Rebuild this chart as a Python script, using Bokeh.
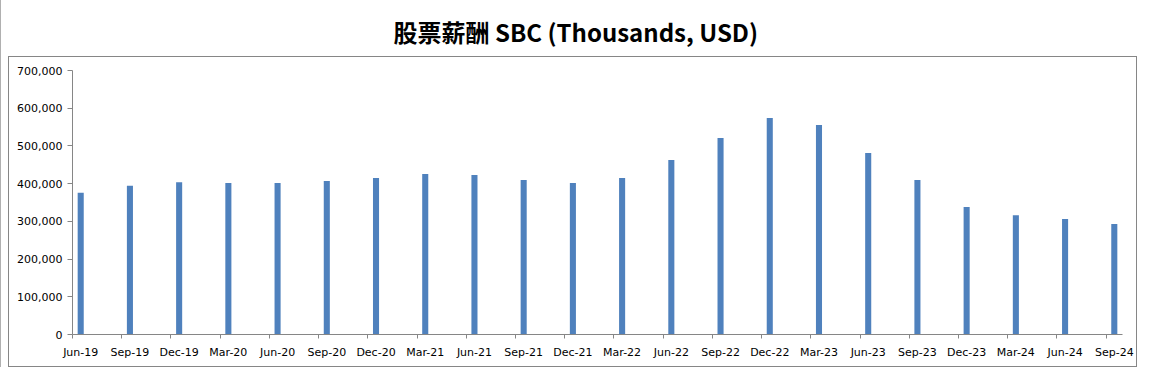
from bokeh.plotting import figure
from bokeh.models import FixedTicker, NumeralTickFormatter, ColumnDataSource, Range1d, Title
from bokeh.layouts import column
from bokeh.embed import file_html
from bokeh.resources import INLINE

# ---- data ----
quarters = ["Jun-19", "Sep-19", "Dec-19", "Mar-20", "Jun-20", "Sep-20", "Dec-20", "Mar-21",
            "Jun-21", "Sep-21", "Dec-21", "Mar-22", "Jun-22", "Sep-22", "Dec-22", "Mar-23",
            "Jun-23", "Sep-23", "Dec-23", "Mar-24", "Jun-24", "Sep-24"]
sbc = [376000, 394500, 404000, 401500, 401500, 407000, 415000, 425500,
       423000, 409500, 401500, 415000, 462500, 521000, 574000, 555500,
       481000, 409500, 338000, 316500, 306000, 293000]
y_ticks = [0, 100000, 200000, 300000, 400000, 500000, 600000, 700000]
title_text = "股票薪酬 SBC (Thousands, USD)"

# month index on a monthly date axis (quarterly points)
month_idx = [3 * i for i in range(len(quarters))]
src = ColumnDataSource(dict(x=month_idx, top=sbc, label=quarters))

AXIS_GRAY = "#868686"
W = 1129

# ---- title strip ----
tp = figure(width=W, height=56, toolbar_location=None, output_backend="svg",
            min_border=0, min_border_top=48, x_range=Range1d(0, 1), y_range=Range1d(0, 1))
tp.axis.visible = False
tp.grid.visible = False
tp.outline_line_color = None
tp.title = Title(text=title_text, align="left", text_font="Noto Sans CJK SC",
                 text_font_size="24px", text_font_style="bold", text_color="#000000",
                 offset=322, standoff=0)
tp.scatter([0.5], [0.5], size=0, alpha=0)
tp.margin = (0, 0, 0, 7)

# ---- main chart ----
p = figure(width=W, height=311, toolbar_location=None, output_backend="svg",
           x_range=Range1d(-0.5, month_idx[-1] + 0.5), y_range=Range1d(0, 700000),
           min_border_left=63, min_border_right=16, min_border_top=13, min_border_bottom=34)
p.styles = {"border": "1px solid " + AXIS_GRAY}
p.margin = (0, 0, 0, 7)
p.vbar(x="x", top="top", width=0.37, source=src, fill_color="#4F81BD", line_color=None)

p.outline_line_color = None
p.grid.visible = False
p.background_fill_color = "white"
p.border_fill_color = "white"

xa = p.xaxis[0]
xa.ticker = FixedTicker(ticks=month_idx, minor_ticks=[m - 0.5 for m in month_idx])
xa.major_label_overrides = {m: q for m, q in zip(month_idx, quarters)}
xa.major_tick_line_color = None
xa.major_tick_in = 0
xa.major_tick_out = 0
xa.minor_tick_in = 0
xa.minor_tick_out = 4
xa.minor_tick_line_color = AXIS_GRAY
xa.axis_line_color = AXIS_GRAY
xa.major_label_standoff = 7
xa.major_label_text_font = "DejaVu Sans"
xa.major_label_text_font_size = "11px"
xa.major_label_text_color = "#000000"

ya = p.yaxis[0]
ya.ticker = FixedTicker(ticks=y_ticks)
ya.formatter = NumeralTickFormatter(format="0,0")
ya.major_tick_in = 0
ya.major_tick_out = 5
ya.major_tick_line_color = AXIS_GRAY
ya.minor_tick_line_color = None
ya.axis_line_color = AXIS_GRAY
ya.major_label_standoff = 5
ya.major_label_text_font = "DejaVu Sans"
ya.major_label_text_font_size = "11px"
ya.major_label_text_color = "#000000"

layout = column(tp, p, spacing=0)
layout.styles = {"border-left": "1px solid #b0b0b0"}
open("out.html", "w").write(file_html(layout, INLINE))
